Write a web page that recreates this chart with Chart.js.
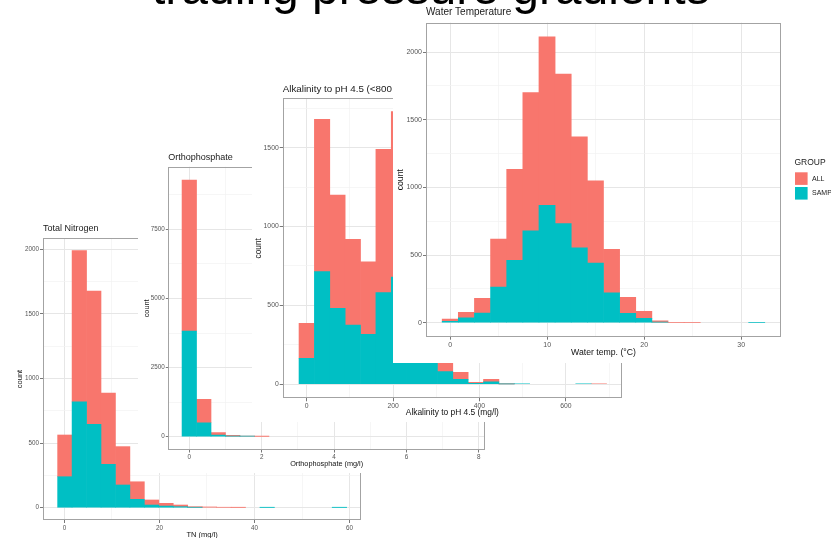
<!DOCTYPE html>
<html>
<head>
<meta charset="utf-8">
<title>Histograms across pressure gradients</title>
<script src="https://cdn.jsdelivr.net/npm/chart.js@4.4.0/dist/chart.umd.min.js"></script>
<style>
    html, body { margin: 0; padding: 0; width: 831px; height: 538px; overflow: hidden; background: #fff; }
    canvas { position: absolute; background: #fff; }
    #slide-title {
        position: absolute; left: 152px; top: -36.5px; z-index: 10;
        font: 48px 'Liberation Sans', Arial, sans-serif; line-height: 48px;
        color: #000; white-space: nowrap;
    }
</style>
</head>
<body>
<div id="slide-title">trading pressure gradients</div>
<canvas id="tn-chart" width="372" height="327" style="left:0;top:218px;z-index:1"></canvas>
<canvas id="ortho-chart" width="352" height="323" style="left:138px;top:150px;z-index:2"></canvas>
<canvas id="alk-chart" width="375" height="342" style="left:252px;top:80px;z-index:3"></canvas>
<canvas id="water-chart" width="470" height="363" style="left:393px;top:0;z-index:4"></canvas>

<script>
const SALMON = '#F8766D';
const TEAL = '#00BFC4';
const FONT = "'Liberation Sans', Arial, Helvetica, sans-serif";
const groupNames = ['ALL', 'SAMPLE'];

// Total Nitrogen - bin centres and counts per group
const tnBins = [0.1, 3.14, 6.18, 9.22, 12.26, 15.3, 18.34, 21.38, 24.42, 27.46, 30.5, 33.54, 36.58, 39.62, 42.66, 45.7, 48.74, 51.78, 54.82, 57.86];
const tnAll  = [323, 1171, 1031, 551, 297, 136, 39, 21, 13, 5, 6, 3, 2, 0, 0, 0, 0, 0, 0, 0];
const tnSamp = [240, 819, 646, 336, 176, 65, 21, 13, 8, 3, 0, 0, 0, 0, 2, 0, 0, 0, 0, 2];
const tnXTicks = [0, 20, 40, 60];
const tnXMinor = [10, 30, 50];
const tnYTicks = [0, 500, 1000, 1500, 2000];
const tnYMinor = [250, 750, 1250, 1750];

// Orthophosphate
const orthoBins = [0, 0.4, 0.8, 1.2, 1.6, 2.0, 2.4, 2.8, 3.2, 3.6, 4.0, 4.4, 4.8, 5.2, 5.6, 6.0, 6.4, 6.8, 7.2, 7.6];
const orthoAll  = [5462, 846, 84, 30, 5, 10, 0, 0, 0, 0, 0, 0, 0, 0, 0, 0, 0, 0, 0, 0];
const orthoSamp = [3822, 506, 61, 15, 15, 0, 0, 0, 0, 0, 0, 0, 0, 0, 0, 0, 0, 0, 0, 0];
const orthoXTicks = [0, 2, 4, 6, 8];
const orthoXMinor = [1, 3, 5, 7];
const orthoYTicks = [0, 2500, 5000, 7500];
const orthoYMinor = [1250, 3750, 6250, 8750];

// Alkalinity to pH 4.5
const alkBins = [0, 35.6, 71.2, 106.8, 142.4, 178, 213.6, 249.2, 284.8, 320.4, 356, 391.6, 427.2, 462.8, 498.4, 534, 569.6, 605.2, 640.8, 676.4];
const alkAll  = [222, 966, 718, 543, 460, 909, 1050, 490, 220, 57, 44, 7, 17, 3, 0, 0, 0, 0, 0, 3];
const alkSamp = [165, 714, 482, 376, 317, 581, 679, 330, 160, 80, 32, 6, 15, 2, 3, 0, 0, 0, 3, 0];
const alkXTicks = [0, 200, 400, 600];
const alkXMinor = [100, 300, 500, 700];
const alkYTicks = [0, 500, 1000, 1500];
const alkYMinor = [250, 750, 1250, 1750];

// Water temperature
const waterBins = [0, 1.663, 3.326, 4.989, 6.652, 8.315, 9.978, 11.641, 13.304, 14.967, 16.63, 18.293, 19.956, 21.619, 23.282, 24.945, 26.608, 28.271, 29.934, 31.597];
const waterAll  = [18, 40, 108, 354, 672, 1020, 1246, 1106, 820, 608, 320, 119, 52, 10, 3, 2, 0, 0, 0, 0];
const waterSamp = [10, 37, 72, 264, 461, 680, 867, 732, 554, 441, 222, 69, 32, 5, 0, 0, 0, 0, 0, 2];
const waterXTicks = [0, 10, 20, 30];
const waterXMinor = [5, 15, 25];
const waterYTicks = [0, 500, 1000, 1500, 2000];
const waterYMinor = [250, 750, 1250, 1750];

// panel border, left-aligned title and the GROUP legend (ggplot look)
const ggFrame = {
    id: 'ggFrame',
    defaults: { title: '', titleSize: 10, titleGap: 10, showLegend: false },
    afterDatasetsDraw(chart, args, opts) {
        const a = chart.chartArea;
        const ctx = chart.ctx;
        ctx.save();
        ctx.strokeStyle = '#a3a3a3';
        ctx.lineWidth = 1;
        ctx.strokeRect(Math.round(a.left) + 0.5, Math.round(a.top) + 0.5,
            Math.round(a.right - a.left) - 1, Math.round(a.bottom - a.top) - 1);
        ctx.restore();
    },
    afterDraw(chart, args, opts) {
        const a = chart.chartArea;
        const ctx = chart.ctx;
        ctx.save();
        ctx.fillStyle = '#1a1a1a';
        ctx.textBaseline = 'middle';
        ctx.textAlign = 'left';
        ctx.font = opts.titleSize + 'px ' + FONT;
        ctx.fillText(opts.title, a.left, a.top - opts.titleGap);

        if (opts.showLegend) {
            const cy = (a.top + a.bottom) / 2;
            const kx = a.right + 14;
            ctx.fillStyle = '#1a1a1a';
            ctx.font = '8.5px ' + FONT;
            ctx.fillText('GROUP', kx - 0.5, cy - 17);
            const colors = [SALMON, TEAL];
            ctx.font = '7px ' + FONT;
            groupNames.forEach((name, i) => {
                const top = cy - 7.4 + i * 14.7;
                ctx.fillStyle = colors[i];
                ctx.fillRect(kx, top, 12.6, 12.6);
                ctx.fillStyle = '#1a1a1a';
                ctx.fillText(name, kx + 17, top + 6.5);
            });
        }
        ctx.restore();
    }
};
Chart.register(ggFrame);

function setTicks(major, minor) {
    return function(scale) {
        const ticks = major.map(v => ({ value: v }))
            .concat(minor.map(v => ({ value: v, minor: true })));
        ticks.sort((p, q) => p.value - q.value);
        scale.ticks = ticks;
    };
}

function axis(p, which) {
    const isX = which === 'x';
    return {
        type: 'linear',
        stacked: true,
        offset: false,
        min: isX ? p.xMin : p.yMin,
        max: isX ? p.xMax : p.yMax,
        afterBuildTicks: isX ? setTicks(p.xTicks, p.xMinor) : setTicks(p.yTicks, p.yMinor),
        afterFit: function(scale) {
            if (isX) scale.height = p.xAxisH;
            else scale.width = p.yAxisW;
        },
        border: { display: false },
        grid: {
            offset: false,
            color: c => (c.tick && c.tick.minor) ? '#f2f2f2' : '#e6e6e6',
            lineWidth: c => (c.tick && c.tick.minor) ? 0.7 : 1,
            tickLength: p.tickLen,
            tickWidth: 0.8,
            tickColor: c => (c.tick && c.tick.minor) ? 'rgba(0,0,0,0)' : '#555'
        },
        ticks: {
            autoSkip: false,
            maxRotation: 0,
            minRotation: 0,
            padding: 1,
            color: '#555',
            font: { family: FONT, size: p.tickSize },
            callback: (v, i, ticks) => ticks[i].minor ? '' : String(v)
        },
        title: {
            display: true,
            text: isX ? p.xTitle : 'count',
            color: '#111',
            font: { family: FONT, size: p.axisSize },
            padding: isX ? { top: 0, bottom: p.xTitlePad } : { top: p.yTitlePad, bottom: 0 }
        }
    };
}

// empty bins are left out so they do not leave a hairline on the baseline
function points(bins, counts) {
    return bins.map((x, i) => ({ x: x, y: counts[i] === 0 ? null : counts[i] }));
}

function makeHistogram(id, p) {
    const ctx = document.getElementById(id).getContext('2d');
    return new Chart(ctx, {
        type: 'bar',
        data: {
            datasets: [
                {
                    label: groupNames[1],
                    data: points(p.bins, p.samp),
                    backgroundColor: TEAL,
                    borderWidth: 0,
                    barPercentage: 1,
                    categoryPercentage: 1
                },
                {
                    label: groupNames[0],
                    data: points(p.bins, p.all),
                    backgroundColor: SALMON,
                    borderWidth: 0,
                    barPercentage: 1,
                    categoryPercentage: 1
                }
            ]
        },
        options: {
            responsive: false,
            animation: false,
            devicePixelRatio: 1,
            events: [],
            layout: { padding: { left: 0, top: p.padTop, right: p.padRight, bottom: 0 } },
            plugins: {
                legend: { display: false },
                tooltip: { enabled: false },
                ggFrame: {
                    title: p.title,
                    titleSize: p.titleSize,
                    titleGap: p.titleGap,
                    showLegend: !!p.legend
                }
            },
            scales: { x: axis(p, 'x'), y: axis(p, 'y') }
        }
    });
}

Chart.defaults.font.family = FONT;

makeHistogram('tn-chart', {
    title: 'Total Nitrogen', titleSize: 9, titleGap: 9,
    bins: tnBins, all: tnAll, samp: tnSamp,
    xTicks: tnXTicks, xMinor: tnXMinor, yTicks: tnYTicks, yMinor: tnYMinor,
    xMin: -4.5, xMax: 62.4, yMin: -95, yMax: 2088,
    xTitle: 'TN (mg/l)', tickSize: 6.3, axisSize: 7.5, tickLen: 3,
    padTop: 20, padRight: 11, yAxisW: 43, xAxisH: 25,
    yTitlePad: 15.5, xTitlePad: 5.5
});

makeHistogram('ortho-chart', {
    title: 'Orthophosphate', titleSize: 9, titleGap: 9,
    bins: orthoBins, all: orthoAll, samp: orthoSamp,
    xTicks: orthoXTicks, xMinor: orthoXMinor, yTicks: orthoYTicks, yMinor: orthoYMinor,
    xMin: -0.58, xMax: 8.17, yMin: -481, yMax: 9764,
    xTitle: 'Orthophosphate (mg/l)', tickSize: 6.3, axisSize: 7.3, tickLen: 2.5,
    padTop: 16.7, padRight: 5, yAxisW: 30.3, xAxisH: 23,
    yTitlePad: 4.6, xTitlePad: 4.6
});

makeHistogram('alk-chart', {
    title: 'Alkalinity to pH 4.5 (<800 mg/l)', titleSize: 9.8, titleGap: 9.3,
    bins: alkBins, all: alkAll, samp: alkSamp,
    xTicks: alkXTicks, xMinor: alkXMinor, yTicks: alkYTicks, yMinor: alkYMinor,
    xMin: -55.6, xMax: 730, yMin: -89, yMax: 1813,
    xTitle: 'Alkalinity to pH 4.5 (mg/l)', tickSize: 6.8, axisSize: 8.4, tickLen: 3,
    padTop: 18.3, padRight: 5, yAxisW: 30.7, xAxisH: 23.7,
    yTitlePad: 1.3, xTitlePad: 4
});

makeHistogram('water-chart', {
    title: 'Water Temperature', titleSize: 10, titleGap: 10.7,
    bins: waterBins, all: waterAll, samp: waterSamp,
    xTicks: waterXTicks, xMinor: waterXMinor, yTicks: waterYTicks, yMinor: waterYMinor,
    xMin: -2.5, xMax: 34.1, yMin: -103, yMax: 2217,
    xTitle: 'Water temp. (°C)', tickSize: 7, axisSize: 8.7, tickLen: 3,
    padTop: 22.7, padRight: 82, yAxisW: 33, xAxisH: 26.3,
    yTitlePad: 2.8, xTitlePad: 5.1, legend: true
});
</script>
</body>
</html>
